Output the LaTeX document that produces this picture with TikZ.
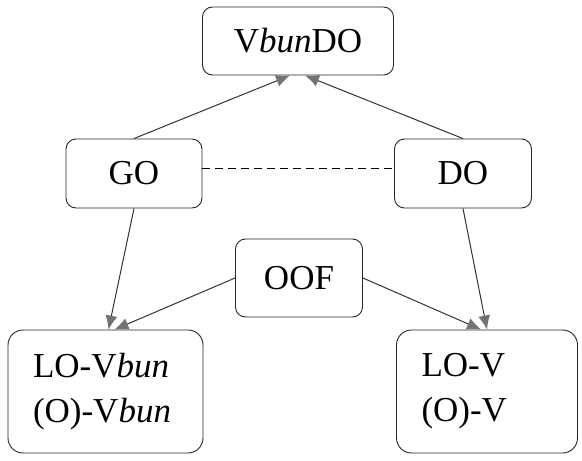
\documentclass[tikz,border=0pt]{standalone}
\usepackage{fontspec}
\setmainfont{Liberation Serif}
\usepackage{tikz}
\usetikzlibrary{arrows.meta,positioning,calc}

\begin{document}
\begin{tikzpicture}[x=1pt, y=-1pt,
    every node/.style={font=\fontsize{35}{45}\selectfont},
    box/.style={draw=black!85, line width=0.9pt, rounded corners=10pt, inner sep=0pt},
    bigbox/.style={box, rounded corners=15pt, align=left, inner xsep=25pt, minimum height=123pt},
    link/.style={draw=black!80, line width=1pt, -{Latex[length=14pt,width=12pt,color=black!55,fill=black!55]}}]
    \useasboundingbox (0,0) rectangle (582,461);

    % top
    \node[box, minimum width=191pt, minimum height=68pt] (vbundo) at (298,41) {V\textit{bun}DO};

    % middle row
    \node[box, minimum width=136pt, minimum height=69pt] (go) at (134,173.5) {GO};
    \node[box, minimum width=137pt, minimum height=69pt] (do) at (463,173.5) {DO};
    \node[box, minimum width=127pt, minimum height=78pt] (oof) at (299,278) {OOF};

    % bottom row
    \node[bigbox, text width=145pt] (lovbun) at (105.5,391.5) {LO-V\textit{bun}\\(O)-V\textit{bun}};
    \node[bigbox, text width=131pt] (lov) at (487,391.5) {LO-V\\(O)-V};

    % links
    \draw[black, line width=1.3pt, dash pattern=on 8pt off 5pt]
        ([yshift=5pt]go.east) -- ([yshift=5pt]do.west);
    \draw[link] (go.north) -- ([xshift=-8pt]vbundo.south);
    \draw[link] (do.north) -- ([xshift=7pt]vbundo.south);
    \draw[link] (go.south) -- ([xshift=3pt]lovbun.north);
    \draw[link] (oof.west) -- ([xshift=9pt]lovbun.north);
    \draw[link] (do.south) -- (lov.north);
    \draw[link] (oof.east) -- ([xshift=-6pt]lov.north);
\end{tikzpicture}
\end{document}
